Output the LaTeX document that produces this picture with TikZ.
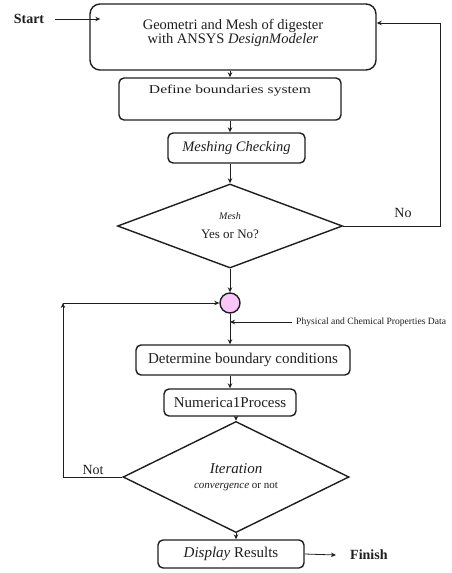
\documentclass[tikz,border=0pt]{standalone}
\usepackage{graphicx}
\usepackage{fontspec}
\setmainfont{Liberation Serif}
\usetikzlibrary{arrows.meta,shapes.geometric}
\definecolor{nodepink}{RGB}{248,198,248}
\definecolor{ink}{RGB}{30,30,30}
\tikzset{
  box/.style={draw=ink, line width=1.4pt, rounded corners=5pt, align=center, inner sep=2pt, text=ink},
  bigbox/.style={box, rounded corners=10pt},
  decision/.style={draw=ink, line width=1.4pt, diamond, inner sep=0pt, align=center, text=ink},
  conn/.style={draw=ink, line width=0.8pt},
  arr/.style={conn, -{Stealth[length=5pt,width=4.5pt]}},
  lbl/.style={text=ink, inner sep=0pt}
}
\begin{document}
\begin{tikzpicture}[x=1pt,y=-1pt]
\useasboundingbox (0,0) rectangle (451,573);

% boxes
\node[bigbox, minimum width=286pt, minimum height=66pt, text depth=11pt, font=\fontsize{14.5}{13.5}\selectfont] (top) at (233,37)
  {Geometri and Mesh of digester\\with ANSYS \textit{DesignModeler}};
\node[box, minimum width=222pt, minimum height=42pt, text depth=20pt, font=\fontsize{12}{14}\selectfont] (def) at (230,99)
  {\scalebox{1.3}[1]{Define boundaries system}};
\node[box, minimum width=137pt, minimum height=30pt, font=\fontsize{14.5}{16}\selectfont\itshape] (mesh) at (236.5,148)
  {Meshing Checking};
\node[decision, minimum width=225pt, minimum height=81pt, font=\fontsize{13}{19}\selectfont] (d1) at (230,226)
  {{\fontsize{10}{12}\selectfont\itshape Mesh}\\Yes or No?};
\node[draw=ink, line width=1.4pt, circle, fill=nodepink, minimum size=20pt, inner sep=0pt] (c) at (230,303) {};
\node[box, minimum width=214pt, minimum height=30pt, font=\fontsize{15}{17}\selectfont] (det) at (243,360)
  {Determine boundary conditions};
\node[box, minimum width=132pt, minimum height=27pt, font=\fontsize{15}{17}\selectfont] (num) at (230,402.5)
  {Numerica1Process};
\node[decision, minimum width=226pt, minimum height=92pt, font=\fontsize{15}{15}\selectfont] (d2) at (236,477)
  {\textit{Iteration}\\{\fontsize{11}{12}\selectfont\textit{convergence} or not}};
\node[box, minimum width=146pt, minimum height=28pt, font=\fontsize{15}{17}\selectfont] (disp) at (231,554)
  {\textit{Display} Results};

% labels
\node[lbl, font=\fontsize{14}{16}\selectfont\bfseries] (start) at (29,19) {Start};
\node[lbl, font=\fontsize{14}{16}\selectfont\bfseries, anchor=west] (finish) at (350,555) {Finish};
\node[lbl, font=\fontsize{14}{16}\selectfont] (no) at (403,213) {No};
\node[lbl, font=\fontsize{14}{16}\selectfont] (not) at (93,470) {Not};
\node[lbl, font=\fontsize{9.6}{10}\selectfont, anchor=west] (phys) at (296,322) {Physical and Chemical Properties Data};

% coordinates
\coordinate (nr) at (440,23);
\coordinate (nl) at (63,303);

% connectors
\draw[arr] ([xshift=11pt]start.east) -- ([xshift=11pt]start.east -| top.west);
\draw[arr] (def.north |- top.south) -- (def.north);
\draw[arr] (def.south) -- (def.south |- mesh.north);
\draw[arr] (mesh.south -| d1.north) -- (d1.north);
\draw[arr] (d1.south) -- (c.north);
\draw[conn] (d1.east) -| (nr);
\draw[arr] (nr) -- (nr -| top.east);
\draw[arr] (c.south) -- (c.south |- det.north);
\draw[arr] ([xshift=-4pt]phys.west) -- (c.south |- phys.west);
\draw[arr] (num.north |- det.south) -- (num.north);
\draw[arr] (d2.north |- num.south) -- (d2.north);
\draw[arr] (d2.west) -| (nl);
\draw[arr] (nl) -- (c.west);
\draw[arr] (d2.south) -- (d2.south |- disp.north);
\draw[arr] (disp.east) -- ([xshift=-14pt]finish.west);
\end{tikzpicture}
\end{document}
